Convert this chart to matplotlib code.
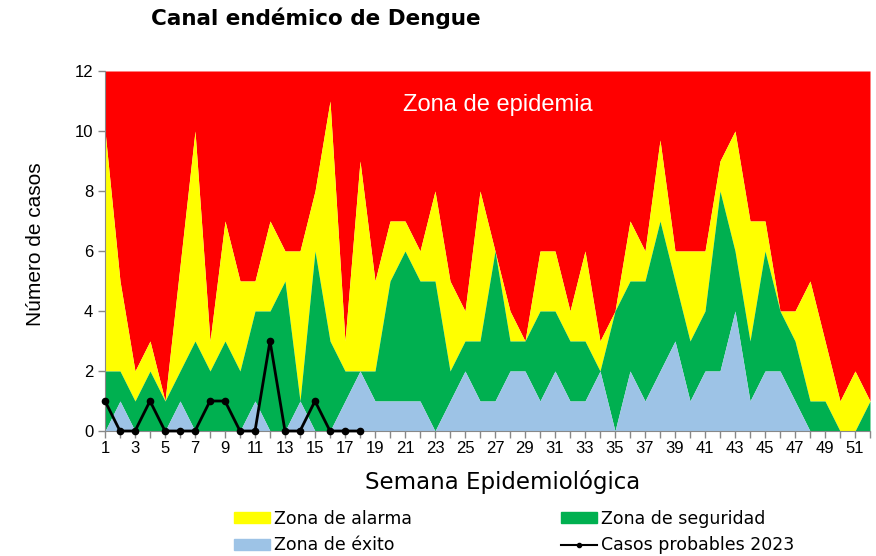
import matplotlib
matplotlib.use('Agg')
from matplotlib import pyplot as plt
from matplotlib.patches import Patch
from matplotlib.lines import Line2D

semanas = list(range(1, 53))

# upper edge of each zone (cases)
exito = [0, 1, 0, 0, 0, 1, 0, 0, 0, 0, 1, 0, 0, 1, 0, 0, 1, 2,
         1, 1, 1, 1, 0, 1, 2, 1, 1, 2, 2, 1, 2, 1, 1, 2, 0, 2,
         1, 2, 3, 1, 2, 2, 4, 1, 2, 2, 1, 0, 0, 0, 0, 0]
seguridad = [2, 2, 1, 2, 1, 2, 3, 2, 3, 2, 4, 4, 5, 1, 6, 3, 2, 2,
             2, 5, 6, 5, 5, 2, 3, 3, 6, 3, 3, 4, 4, 3, 3, 2, 4, 5,
             5, 7, 5, 3, 4, 8, 6, 3, 6, 4, 3, 1, 1, 0, 0, 1]
alarma = [10, 5, 2, 3, 1, 5.5, 10, 3, 7, 5, 5, 7, 6, 6, 8, 11, 3, 9,
          5, 7, 7, 6, 8, 5, 4, 8, 6, 4, 3, 6, 6, 4, 6, 3, 4, 7,
          6, 9.7, 6, 6, 6, 9, 10, 7, 7, 4, 4, 5, 3, 1, 2, 1]

semanas_2023 = list(range(1, 19))
casos_2023 = [1, 0, 0, 1, 0, 0, 0, 1, 1, 0, 0, 3, 0, 0, 1, 0, 0, 0]

ROJO, AMARILLO, VERDE, AZUL = '#FF0000', '#FFFF00', '#00B050', '#9DC3E6'

fig = plt.figure(figsize=(8.76, 5.56), dpi=100)
ax = fig.add_axes([105/876, 1-431/556, 765/876, 360/556])

ax.fill_between(semanas, alarma, 12, color=ROJO, lw=0)
ax.fill_between(semanas, seguridad, alarma, color=AMARILLO, lw=0)
ax.fill_between(semanas, exito, seguridad, color=VERDE, lw=0)
ax.fill_between(semanas, 0, exito, color=AZUL, lw=0)
ax.plot(semanas_2023, casos_2023, color='black', lw=2, marker='o', ms=4.5, clip_on=False, zorder=5)

ax.set_xlim(1, 52)
ax.set_ylim(0, 12)
ax.set_yticks(range(0, 13, 2))
ax.set_xticks(semanas)
ax.set_xticklabels([str(s) if s % 2 else '' for s in semanas])
ax.tick_params(axis='both', colors='#888888', labelcolor='black', labelsize=12, length=5, width=1)
ax.tick_params(axis='x', pad=2)
for s in ['top', 'right']:
    ax.spines[s].set_visible(False)
for s in ['left', 'bottom']:
    ax.spines[s].set_color('#888888')
for lbl in ax.get_xticklabels() + ax.get_yticklabels():
    lbl.set_fontfamily('Liberation Sans')

ax.text(0.513, 0.905, 'Zona de epidemia', transform=ax.transAxes, color='white',
        fontsize=17, family='Liberation Sans', ha='center', va='center')

ax.set_ylabel('Número de casos', fontsize=15, family='Liberation Sans')
ax.yaxis.set_label_coords(-0.078, 0.52)
ax.set_xlabel('Semana Epidemiológica', fontsize=16.5)
ax.xaxis.set_label_coords(0.52, -0.107)
fig.text(316/876, 1-18/556, 'Canal endémico de Dengue', fontsize=15.5, fontweight='bold',
         ha='center', va='center')

handles = [Patch(color=AMARILLO), Patch(color=AZUL), Patch(color=VERDE),
           Line2D([], [], color='black', marker='o', ms=3, lw=1.5)]
labels = ['Zona de alarma', 'Zona de éxito', 'Zona de seguridad', 'Casos probables 2023']
fig.legend(handles, labels, ncol=2, loc='center', bbox_to_anchor=(514/876, 1-532/556),
           frameon=False, fontsize=12.5, handlelength=2.07, handleheight=0.6,
           columnspacing=8.6, labelspacing=0.5, handletextpad=0.23)

plt.savefig('out.png', dpi=100)
